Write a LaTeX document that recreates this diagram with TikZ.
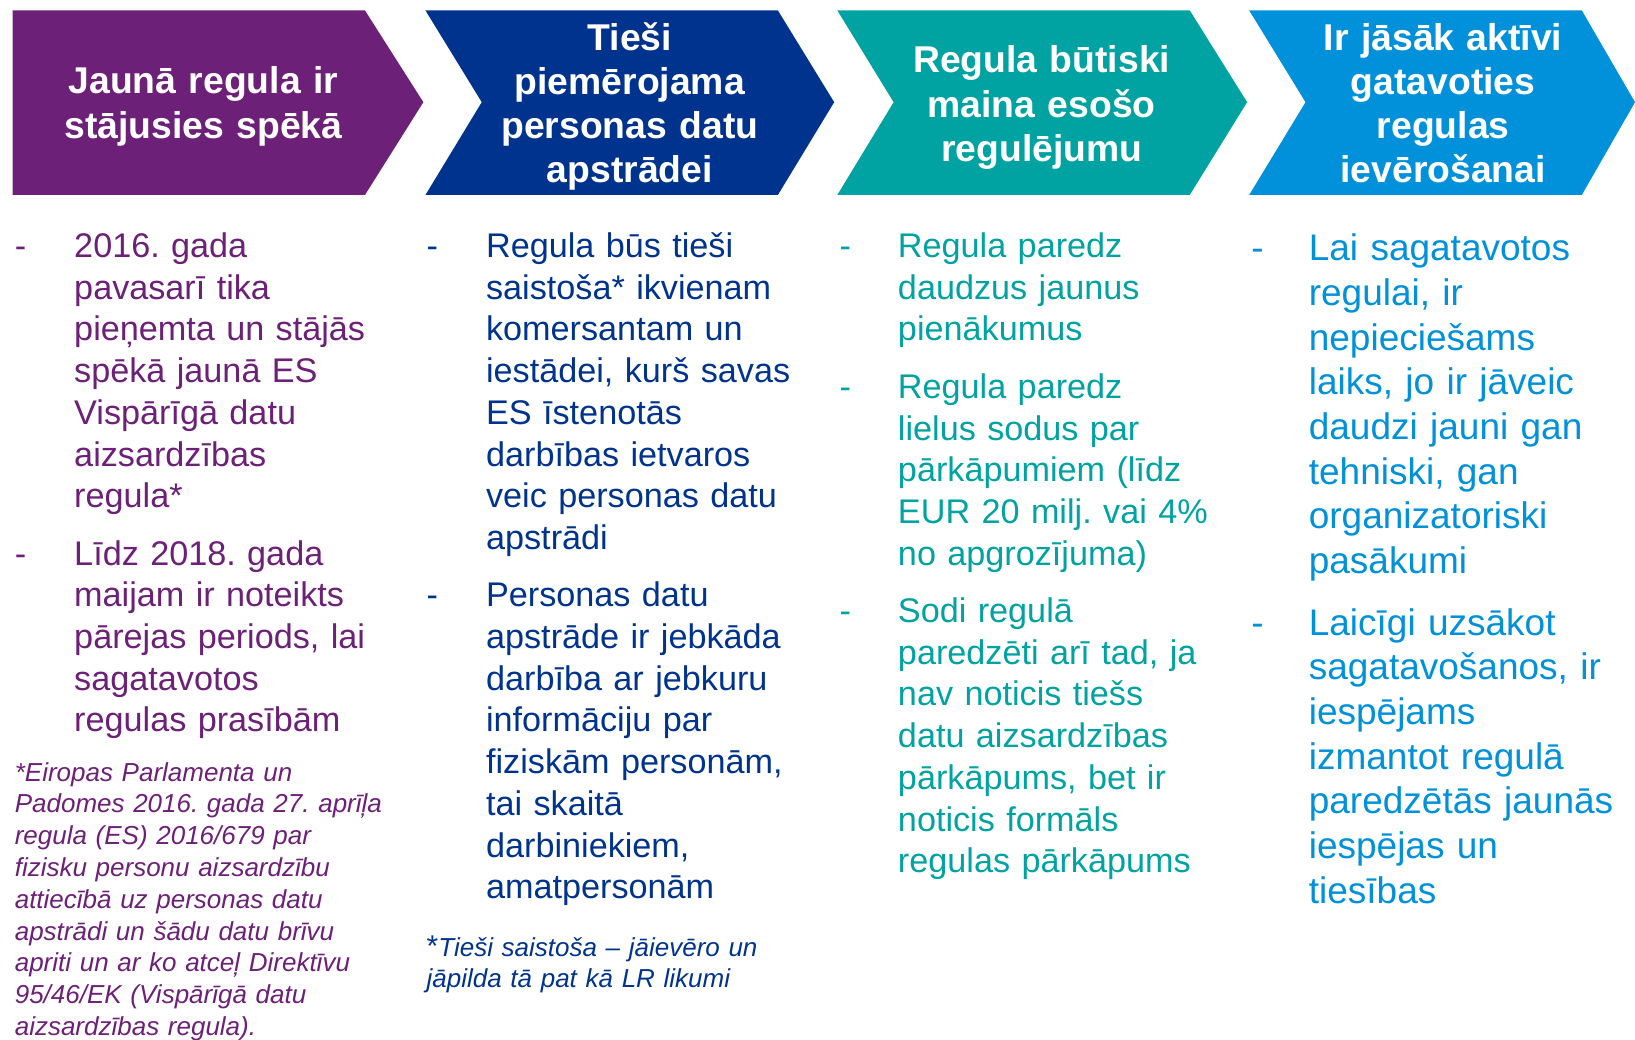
\documentclass[tikz,border=0pt]{standalone}
\usepackage{fontspec}
\setmainfont{Liberation Sans}
\definecolor{kpurple}{HTML}{6D2077}
\definecolor{kblue}{HTML}{00338D}
\definecolor{kteal}{HTML}{00A3A1}
\definecolor{klight}{HTML}{0091DA}
\begin{document}
\frenchspacing
\begin{tikzpicture}[x=1.0427pt,y=-1.0427pt,
  head/.style={anchor=base, inner sep=0pt, text width=380pt, align=center, text=white,
    font=\fontsize{37.3}{44.2}\selectfont\bfseries},
  body/.style={anchor=base west, inner sep=0pt, text width=420pt, align=left,
    font=\fontsize{34.2}{41.7}\selectfont},
  bodyb/.style={anchor=base west, inner sep=0pt, text width=420pt, align=left,
    font=\fontsize{37.0}{44.7}\selectfont},
  hyph/.style={anchor=base west, inner sep=0pt, font=\fontsize{34.2}{41.7}\selectfont},
  hyphb/.style={anchor=base west, inner sep=0pt, font=\fontsize{37.0}{44.7}\selectfont},
  foot/.style={anchor=base west, inner sep=0pt, text width=420pt, align=left,
    font=\fontsize{26.0}{31.8}\selectfont\itshape}
]
\useasboundingbox (0,0) rectangle (1568,997);

% chevrons
\fill[kpurple] (12,10) -- (350,10) -- (406,98) -- (350,187) -- (12,187) -- cycle;
\fill[kblue] (408,10) -- (746,10) -- (800,98) -- (746,187) -- (408,187) -- (462,98) -- cycle;
\fill[kteal] (803,10) -- (1141,10) -- (1196,98) -- (1141,187) -- (803,187) -- (857,98) -- cycle;
\fill[klight] (1198,10) -- (1517,10) -- (1568,98) -- (1517,187) -- (1198,187) -- (1252,98) -- cycle;

% headers
\node[head] (h1) at (195,90) {Jaunā regula ir\\stājusies spēkā};
\node[head] (h2) at (604,48) {Tieši\\piemērojama\\personas datu\\apstrādei};
\node[head] (h3) at (999,70) {Regula būtiski\\maina esošo\\regulējumu};
\node[head] (h4) at (1384,48) {Ir jāsāk aktīvi\\gatavoties\\regulas\\ievērošanai};

% column 1
\node[hyph,text=kpurple] (d11) at (14,247) {-};
\node[body,text=kpurple] (t11) at (71,247) {2016. gada\\pavasarī tika\\pieņemta un stājās\\spēkā jaunā ES\\Vispārīgā datu\\aizsardzības\\regula*};
\node[hyph,text=kpurple] (d12) at (14,542) {-};
\node[body,text=kpurple] (t12) at (71,542) {Līdz 2018. gada\\maijam ir noteikts\\pārejas periods, lai\\sagatavotos\\regulas prasībām};
\node[foot,text=kpurple] (f1) at (14,749) {*Eiropas Parlamenta un\\Padomes 2016. gada 27. aprīļa\\regula (ES) 2016/679 par\\fizisku personu aizsardzību\\attiecībā uz personas datu\\apstrādi un šādu datu brīvu\\apriti un ar ko atceļ Direktīvu\\95/46/EK (Vispārīgā datu\\aizsardzības regula).};

% column 2
\node[hyph,text=kblue] (d21) at (409,247) {-};
\node[body,text=kblue] (t21) at (466,247) {Regula būs tieši\\saistoša* ikvienam\\komersantam un\\iestādei, kurš savas\\ES īstenotās\\darbības ietvaros\\veic personas datu\\apstrādi};
\node[hyph,text=kblue] (d22) at (409,582) {-};
\node[body,text=kblue] (t22) at (466,582) {Personas datu\\apstrāde ir jebkāda\\darbība ar jebkuru\\informāciju par\\fiziskām personām,\\tai skaitā\\darbiniekiem,\\amatpersonām};
\node[foot,text=kblue] (f2) at (409,917) {{\upshape\fontsize{30}{30}\selectfont *}Tieši saistoša – jāievēro un\\jāpilda tā pat kā LR likumi};

% column 3
\node[hyph,text=kteal] (d31) at (805,247) {-};
\node[body,text=kteal] (t31) at (861,247) {Regula paredz\\daudzus jaunus\\pienākumus};
\node[hyph,text=kteal] (d32) at (805,382) {-};
\node[body,text=kteal] (t32) at (861,382) {Regula paredz\\lielus sodus par\\pārkāpumiem (līdz\\EUR 20 milj. vai 4\%\\no apgrozījuma)};
\node[hyph,text=kteal] (d33) at (805,597) {-};
\node[body,text=kteal] (t33) at (861,597) {Sodi regulā\\paredzēti arī tad, ja\\nav noticis tiešs\\datu aizsardzības\\pārkāpums, bet ir\\noticis formāls\\regulas pārkāpums};

% column 4
\node[hyphb,text=klight] (d41) at (1200,250) {-};
\node[bodyb,text=klight] (t41) at (1255,250) {Lai sagatavotos\\regulai, ir\\nepieciešams\\laiks, jo ir jāveic\\daudzi jauni gan\\tehniski, gan\\organizatoriski\\pasākumi};
\node[hyphb,text=klight] (d42) at (1200,609) {-};
\node[bodyb,text=klight] (t42) at (1255,609) {Laicīgi uzsākot\\sagatavošanos, ir\\iespējams\\izmantot regulā\\paredzētās jaunās\\iespējas un\\tiesības};
\end{tikzpicture}
\end{document}
